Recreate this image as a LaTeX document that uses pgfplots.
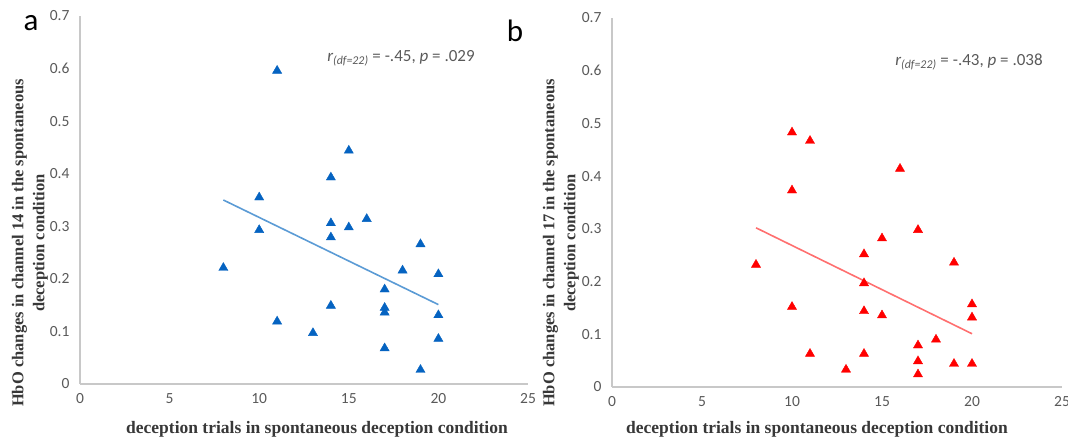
\documentclass[border=0pt]{standalone}
\usepackage{fontspec}
\setmainfont{Liberation Serif}
\newfontfamily\carlito{Carlito}
\usepackage{pgfplots}
\pgfplotsset{compat=1.18}

\definecolor{ptblue}{HTML}{0563C1}
\definecolor{lnblue}{HTML}{5B9BD5}
\definecolor{ptred}{HTML}{FF0000}
\definecolor{lnred}{HTML}{FF6F6F}
\definecolor{axgray}{HTML}{C8C8C8}
\definecolor{tkgray}{HTML}{595959}

\pgfplotsset{
  scatterpanel/.style={
    scale only axis,
    width=448pt, height=368pt,
    xmin=0, xmax=25, ymin=0, ymax=0.7,
    xtick={0,5,...,25},
    ytick={0,0.1,...,0.7},
    axis x line=bottom, axis y line=left,
    axis line style={axgray, line width=1.2pt, -},
    major tick length=0pt,
    /pgf/number format/assume math mode=true,
    tick label style={font=\fontsize{15.5}{17}\selectfont\carlito, text=tkgray},
    xticklabel style={yshift=-6pt},
    yticklabel style={xshift=-7pt},
    yticklabel={\pgfmathprintnumber[fixed,precision=1]{\tick}},
    clip=false,
  },
}

\begin{document}
\begin{tikzpicture}
\useasboundingbox (0pt,0pt) rectangle (1068pt,441pt);

% panel a
\begin{axis}[scatterpanel, at={(80pt,57pt)}, anchor=south west]
\addplot[only marks, mark=triangle*, mark size=5.3pt, color=ptblue] coordinates {
  (8,0.221)(10,0.355)(10,0.293)(11,0.596)(11,0.119)(13,0.097)
  (14,0.393)(14,0.306)(14,0.279)(14,0.149)(15,0.444)(15,0.298)
  (16,0.314)(17,0.180)(17,0.145)(17,0.136)(17,0.068)(18,0.216)
  (19,0.266)(19,0.027)(20,0.209)(20,0.131)(20,0.086)
};
\addplot[lnblue, line width=1.6pt, no marks] coordinates {(8,0.350)(20,0.151)};
\end{axis}

% panel b
\begin{axis}[scatterpanel, width=450pt, height=369pt, at={(612pt,54pt)}, anchor=south west]
\addplot[only marks, mark=triangle*, mark size=5.3pt, color=ptred] coordinates {
  (8,0.232)(10,0.483)(10,0.373)(10,0.152)(11,0.467)(11,0.063)
  (13,0.033)(14,0.252)(14,0.197)(14,0.144)(14,0.063)(15,0.282)
  (15,0.136)(16,0.414)(17,0.298)(17,0.079)(17,0.049)(17,0.024)
  (18,0.090)(19,0.236)(19,0.044)(20,0.157)(20,0.132)(20,0.044)
};
\addplot[lnred, line width=1.6pt, no marks] coordinates {(8,0.302)(20,0.101)};
\end{axis}

% labels
\node[font=\fontsize{31}{33}\selectfont\carlito] at (31pt,418pt) {a};
\node[font=\fontsize{31}{33}\selectfont\carlito] at (515pt,410pt) {b};

\node[rotate=90, align=center, text=black!78, font=\fontsize{16.5}{21}\selectfont\bfseries] at (30pt,198pt)
  {HbO changes in channel 14 in the spontaneous\\deception condition};
\node[rotate=90, align=center, text=black!78, font=\fontsize{16.5}{21}\selectfont\bfseries] at (561pt,198pt)
  {HbO changes in channel 17 in the spontaneous\\deception condition};

\node[text=black!78, font=\fontsize{17.5}{19}\selectfont\bfseries] at (317pt,12pt)
  {deception trials in spontaneous deception condition};
\node[text=black!78, font=\fontsize{17.5}{19}\selectfont\bfseries] at (817pt,12pt)
  {deception trials in spontaneous deception condition};

\node[text=tkgray, font=\fontsize{17}{19}\selectfont\carlito] at (401pt,383pt)
  {\itshape r\textsubscript{(df=22)}\upshape{} = -.45, \itshape p\upshape{} = .029};
\node[text=tkgray, font=\fontsize{17}{19}\selectfont\carlito] at (969pt,379pt)
  {\itshape r\textsubscript{(df=22)}\upshape{} = -.43, \itshape p\upshape{} = .038};
\end{tikzpicture}
\end{document}
